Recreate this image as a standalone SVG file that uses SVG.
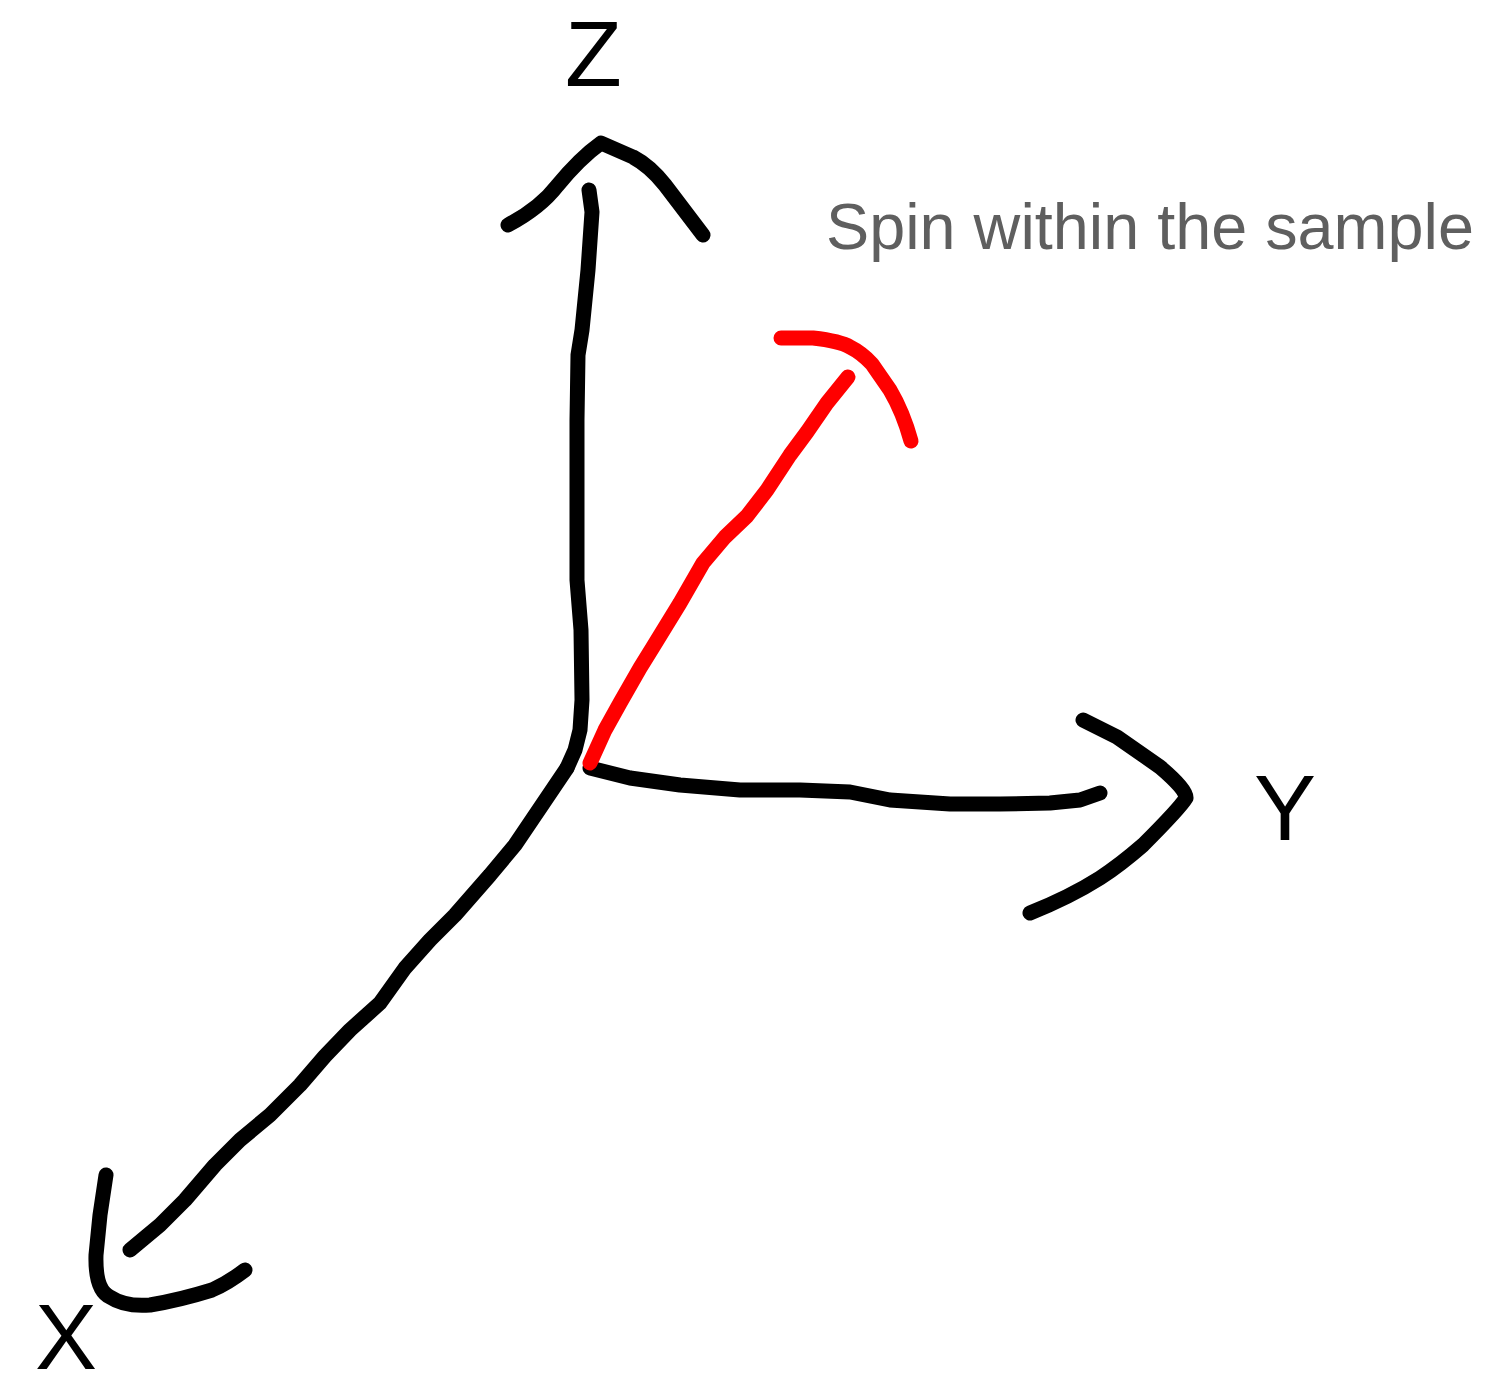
<svg xmlns="http://www.w3.org/2000/svg" width="1496" height="1389" viewBox="0 0 1496 1389">
<style>
.ink{fill:none;stroke:#000;stroke-width:15;stroke-linecap:round;stroke-linejoin:round}
.red{fill:none;stroke:#ff0000;stroke-width:15;stroke-linecap:round;stroke-linejoin:round}
.lbl{font-family:"Liberation Sans",Arial,sans-serif;font-size:93px;fill:#000}
.note{font-family:"Liberation Sans",Arial,sans-serif;font-size:64px;fill:#5f5f5f}
</style>
<rect width="1496" height="1389" fill="#fff"/>
<g id="axis-z">
<path class="ink" d="M589,190 L592,212 L588,270 L582,330 L578,355 L577,420 L577,580 L581,630 L582,700 L580,730 L575,750 L567,768"/>
<path class="ink" d="M508,225 Q540,208 557,186 Q580,158 601,143 L633,157 Q650,166 665,185 L703,235"/>
<text class="lbl" x="565" y="86">Z</text>
</g>
<g id="axis-x">
<path class="ink" d="M567,768 L540,808 L515,845 L490,875 L455,915 L430,940 L405,968 L380,1003 L350,1030 L325,1056 L300,1085 L270,1115 L240,1140 L215,1165 L185,1200 L160,1225 L130,1250"/>
<path class="ink" d="M106,1175 L100,1215 L96,1255 Q95,1290 110,1297 Q125,1307 150,1305 Q180,1300 212,1290 Q228,1283 245,1270"/>
<text class="lbl" x="35" y="1369">X</text>
</g>
<g id="axis-y">
<path class="ink" d="M590,768 L630,778 L680,785 L740,790 L800,790 L850,792 L890,800 L950,804 L1000,804 L1050,803 L1080,800 L1100,793"/>
<path class="ink" d="M1083,720 L1117,737 L1160,767 Q1187,790 1186,798 Q1180,808 1143,845 Q1120,865 1100,878 Q1070,897 1030,913"/>
<text class="lbl" x="1254" y="840">Y</text>
</g>
<g id="spin">
<path class="red" d="M590,763 L605,730 L620,703 L640,668 L653,647 L680,603 L703,563 L725,537 L747,516 L767,490 L790,455 L807,432 L827,403 L848,377"/>
<path class="red" d="M781,338 L813,338 Q840,341 850,347 Q862,353 872,364 L890,390 Q903,412 911,441"/>
</g>
<text class="note" x="826" y="249" textLength="648" lengthAdjust="spacingAndGlyphs">Spin within the sample</text>
</svg>
